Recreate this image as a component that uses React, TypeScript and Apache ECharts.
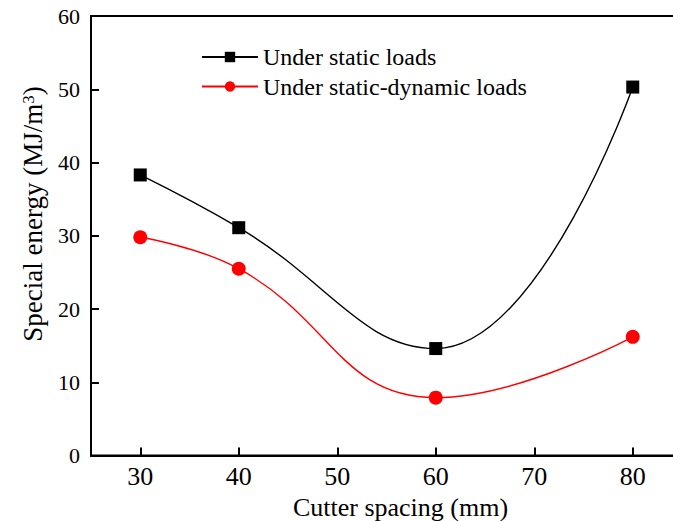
import React, { useEffect, useRef } from "react";
import * as echarts from "echarts";

const spacing = [30, 40, 60, 80];
const xTicks = [30, 40, 50, 60, 70, 80];
const staticLoads = [38.3, 31.1, 14.6, 50.3];
const staticDynamicLoads = [29.8, 25.5, 7.9, 16.2];
const seriesNames = ["Under static loads", "Under static-dynamic loads"];
const xTitle = "Cutter spacing (mm)";
const yTitle = "{a|Special energy (MJ/m}{s|3}{a|)}";

const FONT = "Liberation Serif";

export default function App() {
  const ref = useRef<HTMLDivElement>(null);
  useEffect(() => {
    document.body.style.margin = "0";
    const chart = echarts.init(ref.current!, undefined, { renderer: "svg" });
    chart.setOption({
      animation: false,
      backgroundColor: "#fff",
      textStyle: { fontFamily: FONT, color: "#000" },
      grid: {
        left: 91,
        top: 16,
        right: -9,
        bottom: 65.5,
        outerBoundsMode: "none",
        containLabel: false,
        show: true,
        borderColor: "#000",
        borderWidth: 2,
      },
      legend: {
        left: 196,
        top: 40,
        orient: "vertical",
        itemWidth: 56,
        itemHeight: 13,
        itemGap: 5.5,
        textStyle: { fontFamily: FONT, fontSize: 24, color: "#000" },
        data: seriesNames,
      },
      graphic: [
        {
          type: "text",
          x: 33,
          y: 214,
          rotation: Math.PI / 2,
          style: {
            text: yTitle,
            fontFamily: FONT,
            fontSize: 27,
            fill: "#000",
            align: "center",
            verticalAlign: "middle",
            rich: {
              a: { fontFamily: FONT, fontSize: 27, fill: "#000" },
              s: { fontFamily: FONT, fontSize: 17, fill: "#000", verticalAlign: "top" },
            },
          },
        },
      ],
      xAxis: {
        type: "value",
        min: 25,
        max: 85,
        interval: 5,
        name: xTitle,
        nameLocation: "middle",
        nameGap: 33,
        nameTextStyle: { fontFamily: FONT, fontSize: 26, color: "#000", padding: [0, 0, 0, 28] },
        axisLine: { lineStyle: { color: "#000", width: 2 } },
        axisTick: {
          inside: true,
          length: 8,
          lineStyle: { color: "#000", width: 2 },
          customValues: xTicks,
        },
        axisLabel: {
          fontFamily: FONT,
          fontSize: 26,
          color: "#000",
          margin: 8,
          customValues: xTicks,
        },
        splitLine: { show: false },
      },
      yAxis: {
        type: "value",
        min: 0,
        max: 60,
        interval: 10,
        axisLine: { lineStyle: { color: "#000", width: 2 } },
        axisTick: { inside: true, length: 8, lineStyle: { color: "#000", width: 2 } },
        axisLabel: { fontFamily: FONT, fontSize: 22, color: "#000", margin: 11 },
        splitLine: { show: false },
      },
      series: [
        {
          name: seriesNames[0],
          type: "line",
          smooth: 0.45,
          data: spacing.map((x, i) => [x, staticLoads[i]]),
          symbol: "rect",
          symbolSize: 13,
          itemStyle: { color: "#000" },
          lineStyle: { color: "#000", width: 1.4 },
        },
        {
          name: seriesNames[1],
          type: "line",
          smooth: 0.45,
          data: spacing.map((x, i) => [x, staticDynamicLoads[i]]),
          symbol: "circle",
          symbolSize: 14,
          itemStyle: { color: "#ff0000" },
          lineStyle: { color: "#ff0000", width: 1.4 },
        },
      ],
    });
    return () => chart.dispose();
  }, []);
  return (
    <div
      ref={ref}
      style={{ position: "absolute", left: 0, top: 0, width: 673, height: 521 }}
    />
  );
}
